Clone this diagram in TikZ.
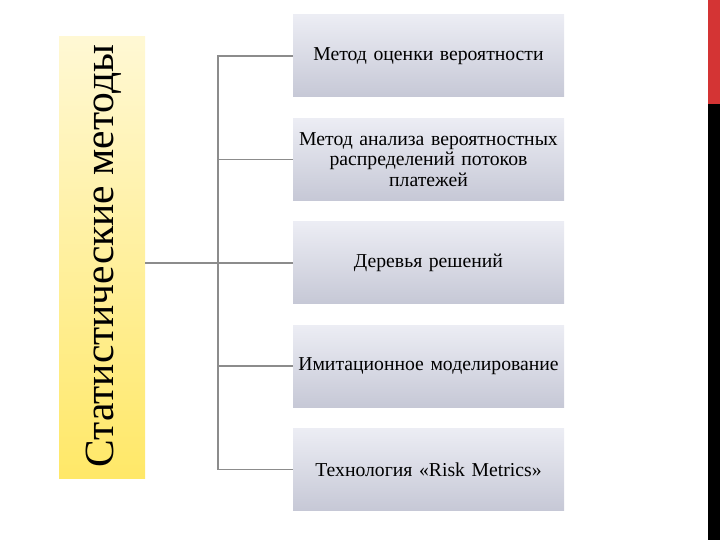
\documentclass[tikz,border=0pt]{standalone}
\usepackage{fontspec}
\setmainfont{Liberation Serif}
\usetikzlibrary{positioning}

\definecolor{boxtop}{RGB}{236,237,244}
\definecolor{boxbot}{RGB}{198,200,214}
\definecolor{paleyel}{RGB}{255,248,212}
\definecolor{deepyel}{RGB}{255,232,104}
\definecolor{linkgray}{RGB}{140,140,140}
\definecolor{barred}{RGB}{212,52,52}

\tikzset{
  method/.style={minimum width=271pt, minimum height=82pt, text width=268pt,
    align=center, inner sep=0pt, top color=boxtop, bottom color=boxbot,
    font=\fontsize{19.7}{20.5}\selectfont},
  link/.style={draw=linkgray, line width=1.5pt}
}

\begin{document}
\begin{tikzpicture}[x=1pt,y=-1pt, node distance=21pt]
\useasboundingbox (0,0) rectangle (720,540);

% side bars
\fill[barred] (708,0) rectangle (720,104);
\fill[black] (708,104) rectangle (720,540);

% root
\node[minimum width=86pt, minimum height=441pt, inner sep=0pt,
      top color=paleyel, bottom color=deepyel] (stat) at (102,257.5) {};
\node[rotate=90, font=\fontsize{41.5}{46}\selectfont] (statlabel) at (104,256) {Статистические методы};

% methods
\node[method] (m1) at (428.5,56) {Метод оценки вероятности};
\node[method, below=of m1] (m2) {Метод анализа вероятностных\\ распределений потоков\\ платежей};
\node[method, below=of m2] (m3) {Деревья решений};
\node[method, below=of m3] (m4) {Имитационное моделирование};
\node[method, below=of m4] (m5) {Технология «Risk Metrics»};

% links
\coordinate (trunk) at (218,0);
\draw[link] (stat.east |- m3.west) -- (trunk |- m3.west);
\draw[link] (m1.west) -- (trunk |- m1.west) -- (trunk |- m5.west) -- (m5.west);
\foreach \i in {2,3,4}
  \draw[link] (trunk |- m\i.west) -- (m\i.west);
\end{tikzpicture}
\end{document}
